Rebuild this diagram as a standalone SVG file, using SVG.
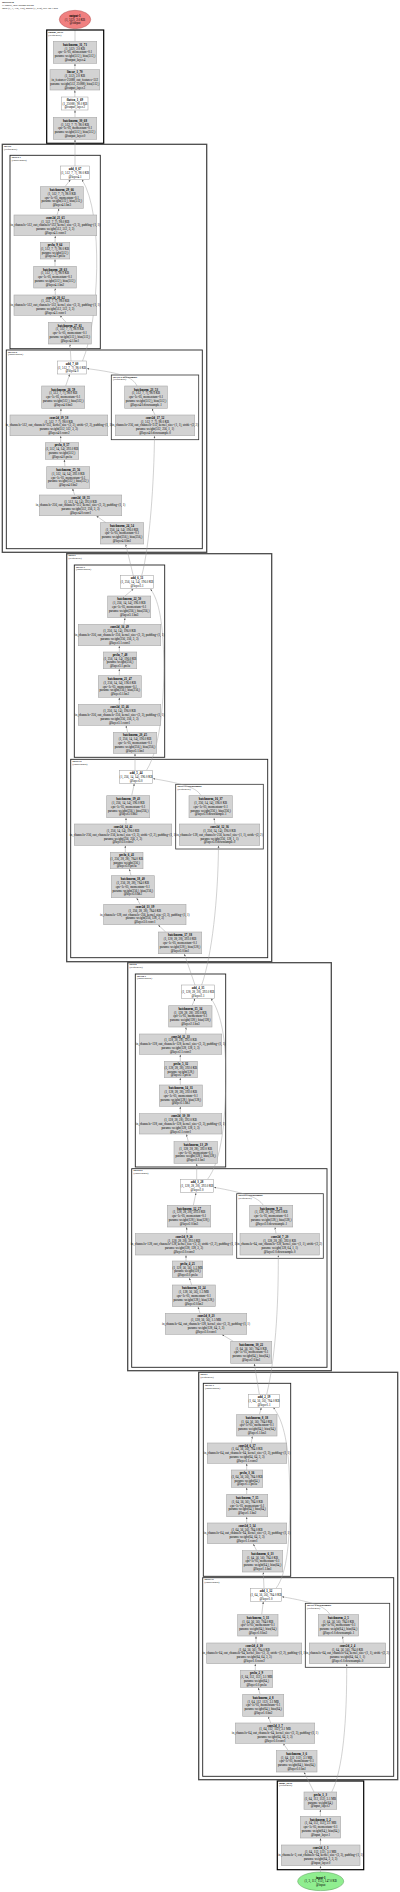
<svg xmlns="http://www.w3.org/2000/svg" width="400" height="1892" viewBox="0 0 400 1892">
<style>
text{font-family:"Liberation Serif","Times New Roman",serif;font-size:3.1px;text-anchor:middle;fill:#000}
.t{font-weight:bold}
.m rect{fill:#d3d3d3;stroke:#a8a8a8;stroke-width:0.6}
.w rect{fill:#fff;stroke:#9a9a9a;stroke-width:0.5}
.c>rect{fill:none}
.c>text{text-anchor:start;font-size:2.7px}
.s>rect{stroke:#4a4a4a;stroke-width:1.3}
.b>rect{stroke:#222;stroke-width:0.9}
.d>rect{stroke:#333;stroke-width:0.8}
.io>rect{stroke:#000;stroke-width:1.2}
.hd{text-anchor:start;font-size:2.7px}
#edges path{fill:none;stroke:#9a9a9a;stroke-width:0.45;marker-end:url(#ah)}
</style>
<defs>
<marker id="ah" viewBox="0 0 10 10" refX="10" refY="5" markerWidth="2.2" markerHeight="2.2" orient="auto" markerUnits="userSpaceOnUse"><path d="M0,1 L10,5 L0,9 z" fill="#555"/></marker>
</defs>
<rect width="400" height="1892" fill="#fff"/>
<g id="header">
<text class="hd t" x="2" y="3.2">IResNet18</text>
<text class="hd" x="2" y="6">71 nodes, total params 24.0M</text>
<text class="hd" x="2" y="8.8">input (1, 3, 112, 112), output (1, 512), size 52.3 MB</text>
</g>
<g id="clusters">
<g id="cluster_output_layer" class="c io"><rect x="46.7" y="30" width="57" height="113.3"/><text class="t" x="48.3" y="32.8">output_layer</text><text x="48.3" y="35.5">(Sequential)</text></g>
<g id="cluster_layer4" class="c s"><rect x="2.3" y="144.3" width="204.4" height="408"/><text class="t" x="4" y="147">layer4</text><text x="4" y="149.7">(Sequential)</text></g>
<g id="cluster_layer4_1" class="c b"><rect x="10" y="155.3" width="90.3" height="193.4"/><text class="t" x="11.7" y="158">layer4.1</text><text x="11.7" y="160.7">(IBasicBlock)</text></g>
<g id="cluster_layer4_0" class="c b"><rect x="6.3" y="350" width="196" height="198.7"/><text class="t" x="8" y="352.7">layer4.0</text><text x="8" y="355.4">(IBasicBlock)</text></g>
<g id="cluster_layer4_0_ds" class="c d"><rect x="111.3" y="375" width="87.4" height="64.7"/><text class="t" x="113" y="377.7">layer4.0.downsample</text><text x="113" y="380.4">(Sequential)</text></g>
<g id="cluster_layer3" class="c s"><rect x="66.7" y="553.7" width="205" height="408"/><text class="t" x="68.4" y="556.4">layer3</text><text x="68.4" y="559.1">(Sequential)</text></g>
<g id="cluster_layer3_1" class="c b"><rect x="74.3" y="565" width="90.4" height="192.3"/><text class="t" x="76" y="567.7">layer3.1</text><text x="76" y="570.4">(IBasicBlock)</text></g>
<g id="cluster_layer3_0" class="c b"><rect x="70.7" y="759.3" width="197" height="198.4"/><text class="t" x="72.4" y="762">layer3.0</text><text x="72.4" y="764.7">(IBasicBlock)</text></g>
<g id="cluster_layer3_0_ds" class="c d"><rect x="175.7" y="784.3" width="87.6" height="64.7"/><text class="t" x="177.4" y="787">layer3.0.downsample</text><text x="177.4" y="789.7">(Sequential)</text></g>
<g id="cluster_layer2" class="c s"><rect x="127.7" y="962.7" width="203.6" height="408"/><text class="t" x="129.4" y="965.4">layer2</text><text x="129.4" y="968.1">(Sequential)</text></g>
<g id="cluster_layer2_1" class="c b"><rect x="135.3" y="974" width="90.4" height="193"/><text class="t" x="137" y="976.7">layer2.1</text><text x="137" y="979.4">(IBasicBlock)</text></g>
<g id="cluster_layer2_0" class="c b"><rect x="131.7" y="1168.7" width="195.3" height="198.6"/><text class="t" x="133.4" y="1171.4">layer2.0</text><text x="133.4" y="1174.1">(IBasicBlock)</text></g>
<g id="cluster_layer2_0_ds" class="c d"><rect x="236.7" y="1193.7" width="86.6" height="64.6"/><text class="t" x="238.4" y="1196.4">layer2.0.downsample</text><text x="238.4" y="1199.1">(Sequential)</text></g>
<g id="cluster_layer1" class="c s"><rect x="198.7" y="1372.3" width="199" height="407.4"/><text class="t" x="200.4" y="1375">layer1</text><text x="200.4" y="1377.7">(Sequential)</text></g>
<g id="cluster_layer1_1" class="c b"><rect x="203.3" y="1383.3" width="87.4" height="193"/><text class="t" x="205" y="1386">layer1.1</text><text x="205" y="1388.7">(IBasicBlock)</text></g>
<g id="cluster_layer1_0" class="c b"><rect x="202.7" y="1577.7" width="191" height="198.6"/><text class="t" x="204.4" y="1580.4">layer1.0</text><text x="204.4" y="1583.1">(IBasicBlock)</text></g>
<g id="cluster_layer1_0_ds" class="c d"><rect x="305.3" y="1603.3" width="84.4" height="64"/><text class="t" x="307" y="1606">layer1.0.downsample</text><text x="307" y="1608.7">(Sequential)</text></g>
<g id="cluster_input_layer" class="c io"><rect x="277.3" y="1781" width="86.4" height="88.7"/><text class="t" x="279" y="1783.7">input_layer</text><text x="279" y="1786.4">(Sequential)</text></g>
</g>
<g id="edges">
<path d="M75,117.3 L75,110.3"/>
<path d="M74.85,97 L74.85,90.3"/>
<path d="M74.85,69.7 L75,63.6"/>
<path d="M75,41.3 L75,28.9"/>
<path d="M75,166 L75,139.6"/>
<path d="M71,361 L70,344.3"/>
<path d="M82.5,361 C99,322 104,214 82,179.6"/>
<path d="M66,322.3 L60,315.6"/>
<path d="M55.3,295 L55.2,288.3"/>
<path d="M55,266.3 L55,259.3"/>
<path d="M55,242.3 L55.3,236"/>
<path d="M57,215 L59,208.6"/>
<path d="M65,186.7 L70.5,179.6"/>
<path d="M155,415 L152,408.6"/>
<path d="M137,386 C133,377 121,373 87,368.6"/>
<path d="M65.7,386 L69.7,374.3"/>
<path d="M60.7,415 L61,408.6"/>
<path d="M60.7,442.7 L60.7,436"/>
<path d="M65,466.7 L64.3,459.6"/>
<path d="M74.7,495 L72.5,488.6"/>
<path d="M106,522.7 L96.5,516"/>
<path d="M133.3,575.7 L125.7,544.3"/>
<path d="M141.7,575.7 C150,545 154,480 154.5,436"/>
<path d="M135,770.3 L135,753.6"/>
<path d="M146.5,770.3 C161,748 166,690 163,640 C161,612 157,598 150.5,589"/>
<path d="M127.7,732.3 L126,725.6"/>
<path d="M119.3,704.3 L119.3,697.6"/>
<path d="M119.3,675.7 L119.3,669"/>
<path d="M119.3,652 L119.3,646"/>
<path d="M124,624.3 L125,618"/>
<path d="M125,596 L133.3,589"/>
<path d="M215,824 L214,818"/>
<path d="M201,795.7 C197,788 185,784 153,778.6"/>
<path d="M131.7,795.7 L134.3,783.6"/>
<path d="M126,824 L126,818"/>
<path d="M125.3,852.3 L125.3,845.6"/>
<path d="M131,875.7 L129.3,869"/>
<path d="M140,904.3 L136.7,898"/>
<path d="M165.7,932 L158.3,925"/>
<path d="M195,985 L184.3,954"/>
<path d="M201.7,985 C212,955 218,900 218.5,845.6"/>
<path d="M196.7,1179.3 L196.7,1163.6"/>
<path d="M207.5,1179.3 C221,1162 227,1120 225.5,1060 C224.5,1028 218,1008 211,998.6"/>
<path d="M188.3,1141.7 L186.5,1134.3"/>
<path d="M180.3,1113.7 L180.3,1106.6"/>
<path d="M180.3,1085 L180.3,1078"/>
<path d="M180.3,1061.3 L180.3,1054.6"/>
<path d="M185.7,1034 L186,1027.3"/>
<path d="M192,1005.7 L195,998.6"/>
<path d="M276,1233.7 L275,1227.3"/>
<path d="M263.3,1205.3 C258,1197 245,1193 214,1187.3"/>
<path d="M193.3,1205.3 L196,1193"/>
<path d="M186.7,1233.7 L186.7,1227.3"/>
<path d="M186,1261 L186,1255.3"/>
<path d="M191.7,1285 L189.3,1278"/>
<path d="M200,1313.3 L198,1307"/>
<path d="M233.3,1341.3 L222,1334.6"/>
<path d="M259.3,1394.3 L254.3,1363.6"/>
<path d="M266.7,1394.3 C275,1360 278.5,1310 278.3,1255.3"/>
<path d="M264,1588.3 L263.3,1572.3"/>
<path d="M276,1588.3 C287,1574 291,1540 289.5,1480 C288.5,1440 282,1418 273.3,1407.6"/>
<path d="M256.7,1550.7 L253.3,1544"/>
<path d="M246.7,1523 L246.7,1517"/>
<path d="M246.7,1494.3 L246.7,1487.6"/>
<path d="M246.7,1470 L246.7,1463.6"/>
<path d="M251.3,1443 L252.3,1436.3"/>
<path d="M259.3,1414.7 L261.3,1407.6"/>
<path d="M343.3,1643 L342.7,1636.3"/>
<path d="M330,1614.7 C325,1606 312,1602 282,1596.7"/>
<path d="M261.7,1614.7 L263.3,1601.6"/>
<path d="M256,1643 L256,1636.3"/>
<path d="M255.3,1670.3 L255.3,1664"/>
<path d="M260,1694.3 L258.3,1687.6"/>
<path d="M270.7,1723 L268.3,1716.6"/>
<path d="M288.3,1750.7 L283.3,1743.6"/>
<path d="M314,1792 L304,1772.3"/>
<path d="M331.7,1792 C343,1770 347,1720 346.7,1664"/>
<path d="M320.4,1816.3 L320.4,1809.6"/>
<path d="M320.5,1845 L320.5,1838.3"/>
<path d="M320.5,1872 L320.5,1866"/>
</g>
<g id="nodes">
<g id="output-1"><ellipse cx="75" cy="19.5" rx="15.7" ry="9.2" fill="#f08080" stroke="#b05050" stroke-width="0.5"/><text x="75" y="16.77"><tspan class="t">output-1</tspan><tspan x="75" dy="3.83">(1, 512), 2.0 KB</tspan><tspan x="75" dy="3.83">@output</tspan></text></g>
<g id="batchnorm_31_71" class="m"><rect x="53.3" y="41.3" width="43.4" height="22"/><text x="75" y="45.74"><tspan class="t">batchnorm_31_71</tspan><tspan x="75" dy="3.83">(1, 512), 2.0 KB</tspan><tspan x="75" dy="3.83">eps=1e-05, momentum=0.1</tspan><tspan x="75" dy="3.83">params: weight(512,), bias(512,)</tspan><tspan x="75" dy="3.83">@output_layer.4</tspan></text></g>
<g id="linear_1_70" class="m"><rect x="50" y="69.7" width="49.7" height="20.3"/><text x="74.85" y="73.29"><tspan class="t">linear_1_70</tspan><tspan x="74.85" dy="3.83">(1, 512), 2.0 KB</tspan><tspan x="74.85" dy="3.83">in_features=25088, out_features=512</tspan><tspan x="74.85" dy="3.83">params: weight(512, 25088), bias(512,)</tspan><tspan x="74.85" dy="3.83">@output_layer.3</tspan></text></g>
<g id="flatten_1_69" class="w"><rect x="61.7" y="97" width="26.3" height="13"/><text x="74.85" y="100.77"><tspan class="t">flatten_1_69</tspan><tspan x="74.85" dy="3.83">(1, 25088), 98.0 KB</tspan><tspan x="74.85" dy="3.83">@output_layer.2</tspan></text></g>
<g id="batchnorm_30_68" class="m"><rect x="53.3" y="117.3" width="43.4" height="22"/><text x="75" y="121.74"><tspan class="t">batchnorm_30_68</tspan><tspan x="75" dy="3.83">(1, 512, 7, 7), 98.0 KB</tspan><tspan x="75" dy="3.83">eps=1e-05, momentum=0.1</tspan><tspan x="75" dy="3.83">params: weight(512,), bias(512,)</tspan><tspan x="75" dy="3.83">@output_layer.0</tspan></text></g>

<g id="add_8_67" class="w"><rect x="60.3" y="166" width="29.4" height="13.3"/><text x="75" y="169.92"><tspan class="t">add_8_67</tspan><tspan x="75" dy="3.83">(1, 512, 7, 7), 98.0 KB</tspan><tspan x="75" dy="3.83">@layer4.1</tspan></text></g>
<g id="batchnorm_29_66" class="m"><rect x="40.3" y="186.7" width="43" height="21.6"/><text x="61.8" y="190.94"><tspan class="t">batchnorm_29_66</tspan><tspan x="61.8" dy="3.83">(1, 512, 7, 7), 98.0 KB</tspan><tspan x="61.8" dy="3.83">eps=1e-05, momentum=0.1</tspan><tspan x="61.8" dy="3.83">params: weight(512,), bias(512,)</tspan><tspan x="61.8" dy="3.83">@layer4.1.bn3</tspan></text></g>
<g id="conv2d_21_65" class="m"><rect x="14" y="215" width="82.7" height="20.7"/><text x="55.35" y="218.79"><tspan class="t">conv2d_21_65</tspan><tspan x="55.35" dy="3.83">(1, 512, 7, 7), 98.0 KB</tspan><tspan x="55.35" dy="3.83">in_channels=512, out_channels=512, kernel_size=(3, 3), padding=(1, 1)</tspan><tspan x="55.35" dy="3.83">params: weight(512, 512, 3, 3)</tspan><tspan x="55.35" dy="3.83">@layer4.1.conv2</tspan></text></g>
<g id="prelu_9_64" class="m"><rect x="40.3" y="242.3" width="29.4" height="16.7"/><text x="55" y="246"><tspan class="t">prelu_9_64</tspan><tspan x="55" dy="3.83">(1, 512, 7, 7), 98.0 KB</tspan><tspan x="55" dy="3.83">params: weight(512,)</tspan><tspan x="55" dy="3.83">@layer4.1.prelu</tspan></text></g>
<g id="batchnorm_28_63" class="m"><rect x="33.7" y="266.3" width="42.6" height="21.7"/><text x="55" y="270.59"><tspan class="t">batchnorm_28_63</tspan><tspan x="55" dy="3.83">(1, 512, 7, 7), 98.0 KB</tspan><tspan x="55" dy="3.83">eps=1e-05, momentum=0.1</tspan><tspan x="55" dy="3.83">params: weight(512,), bias(512,)</tspan><tspan x="55" dy="3.83">@layer4.1.bn2</tspan></text></g>
<g id="conv2d_20_62" class="m"><rect x="14" y="295" width="82.7" height="20.3"/><text x="55.35" y="298.59"><tspan class="t">conv2d_20_62</tspan><tspan x="55.35" dy="3.83">(1, 512, 7, 7), 98.0 KB</tspan><tspan x="55.35" dy="3.83">in_channels=512, out_channels=512, kernel_size=(3, 3), padding=(1, 1)</tspan><tspan x="55.35" dy="3.83">params: weight(512, 512, 3, 3)</tspan><tspan x="55.35" dy="3.83">@layer4.1.conv1</tspan></text></g>
<g id="batchnorm_27_61" class="m"><rect x="48.3" y="322.3" width="43" height="21.7"/><text x="69.8" y="326.59"><tspan class="t">batchnorm_27_61</tspan><tspan x="69.8" dy="3.83">(1, 512, 7, 7), 98.0 KB</tspan><tspan x="69.8" dy="3.83">eps=1e-05, momentum=0.1</tspan><tspan x="69.8" dy="3.83">params: weight(512,), bias(512,)</tspan><tspan x="69.8" dy="3.83">@layer4.1.bn1</tspan></text></g>

<g id="add_7_60" class="w"><rect x="57.3" y="361" width="29.4" height="13"/><text x="72" y="364.77"><tspan class="t">add_7_60</tspan><tspan x="72" dy="3.83">(1, 512, 7, 7), 98.0 KB</tspan><tspan x="72" dy="3.83">@layer4.0</tspan></text></g>
<g id="batchnorm_23_53" class="m"><rect x="124.7" y="386" width="42.6" height="22.3"/><text x="146" y="390.59"><tspan class="t">batchnorm_23_53</tspan><tspan x="146" dy="3.83">(1, 512, 7, 7), 98.0 KB</tspan><tspan x="146" dy="3.83">eps=1e-05, momentum=0.1</tspan><tspan x="146" dy="3.83">params: weight(512,), bias(512,)</tspan><tspan x="146" dy="3.83">@layer4.0.downsample.1</tspan></text></g>
<g id="conv2d_17_52" class="m"><rect x="115.3" y="415" width="79.4" height="20.7"/><text x="155" y="418.79"><tspan class="t">conv2d_17_52</tspan><tspan x="155" dy="3.83">(1, 512, 7, 7), 98.0 KB</tspan><tspan x="155" dy="3.83">in_channels=256, out_channels=512, kernel_size=(1, 1), stride=(2, 2)</tspan><tspan x="155" dy="3.83">params: weight(512, 256, 1, 1)</tspan><tspan x="155" dy="3.83">@layer4.0.downsample.0</tspan></text></g>
<g id="batchnorm_26_59" class="m"><rect x="41.7" y="386" width="43" height="22.3"/><text x="63.2" y="390.59"><tspan class="t">batchnorm_26_59</tspan><tspan x="63.2" dy="3.83">(1, 512, 7, 7), 98.0 KB</tspan><tspan x="63.2" dy="3.83">eps=1e-05, momentum=0.1</tspan><tspan x="63.2" dy="3.83">params: weight(512,), bias(512,)</tspan><tspan x="63.2" dy="3.83">@layer4.0.bn3</tspan></text></g>
<g id="conv2d_19_58" class="m"><rect x="10" y="415" width="97.7" height="20.7"/><text x="58.85" y="418.79"><tspan class="t">conv2d_19_58</tspan><tspan x="58.85" dy="3.83">(1, 512, 7, 7), 98.0 KB</tspan><tspan x="58.85" dy="3.83">in_channels=512, out_channels=512, kernel_size=(3, 3), stride=(2, 2), padding=(1, 1)</tspan><tspan x="58.85" dy="3.83">params: weight(512, 512, 3, 3)</tspan><tspan x="58.85" dy="3.83">@layer4.0.conv2</tspan></text></g>
<g id="prelu_8_57" class="m"><rect x="45.3" y="442.7" width="33.4" height="16.6"/><text x="62" y="446.36"><tspan class="t">prelu_8_57</tspan><tspan x="62" dy="3.83">(1, 512, 14, 14), 392.0 KB</tspan><tspan x="62" dy="3.83">params: weight(512,)</tspan><tspan x="62" dy="3.83">@layer4.0.prelu</tspan></text></g>
<g id="batchnorm_25_56" class="m"><rect x="46.7" y="466.7" width="43" height="21.6"/><text x="68.2" y="470.94"><tspan class="t">batchnorm_25_56</tspan><tspan x="68.2" dy="3.83">(1, 512, 14, 14), 392.0 KB</tspan><tspan x="68.2" dy="3.83">eps=1e-05, momentum=0.1</tspan><tspan x="68.2" dy="3.83">params: weight(512,), bias(512,)</tspan><tspan x="68.2" dy="3.83">@layer4.0.bn2</tspan></text></g>
<g id="conv2d_18_55" class="m"><rect x="39.3" y="495" width="82.4" height="20.7"/><text x="80.5" y="498.79"><tspan class="t">conv2d_18_55</tspan><tspan x="80.5" dy="3.83">(1, 512, 14, 14), 392.0 KB</tspan><tspan x="80.5" dy="3.83">in_channels=256, out_channels=512, kernel_size=(3, 3), padding=(1, 1)</tspan><tspan x="80.5" dy="3.83">params: weight(512, 256, 3, 3)</tspan><tspan x="80.5" dy="3.83">@layer4.0.conv1</tspan></text></g>
<g id="batchnorm_24_54" class="m"><rect x="100.3" y="522.7" width="43.4" height="21.3"/><text x="122" y="526.79"><tspan class="t">batchnorm_24_54</tspan><tspan x="122" dy="3.83">(1, 256, 14, 14), 196.0 KB</tspan><tspan x="122" dy="3.83">eps=1e-05, momentum=0.1</tspan><tspan x="122" dy="3.83">params: weight(256,), bias(256,)</tspan><tspan x="122" dy="3.83">@layer4.0.bn1</tspan></text></g>

<g id="add_6_51" class="w"><rect x="120.3" y="575.7" width="33.4" height="13"/><text x="137" y="579.47"><tspan class="t">add_6_51</tspan><tspan x="137" dy="3.83">(1, 256, 14, 14), 196.0 KB</tspan><tspan x="137" dy="3.83">@layer3.1</tspan></text></g>
<g id="batchnorm_22_50" class="m"><rect x="107.7" y="596" width="43" height="21.7"/><text x="129.2" y="600.29"><tspan class="t">batchnorm_22_50</tspan><tspan x="129.2" dy="3.83">(1, 256, 14, 14), 196.0 KB</tspan><tspan x="129.2" dy="3.83">eps=1e-05, momentum=0.1</tspan><tspan x="129.2" dy="3.83">params: weight(256,), bias(256,)</tspan><tspan x="129.2" dy="3.83">@layer3.1.bn3</tspan></text></g>
<g id="conv2d_16_49" class="m"><rect x="78.3" y="624.3" width="82.4" height="21.4"/><text x="119.5" y="628.44"><tspan class="t">conv2d_16_49</tspan><tspan x="119.5" dy="3.83">(1, 256, 14, 14), 196.0 KB</tspan><tspan x="119.5" dy="3.83">in_channels=256, out_channels=256, kernel_size=(3, 3), padding=(1, 1)</tspan><tspan x="119.5" dy="3.83">params: weight(256, 256, 3, 3)</tspan><tspan x="119.5" dy="3.83">@layer3.1.conv2</tspan></text></g>
<g id="prelu_7_48" class="m"><rect x="103.3" y="652" width="33.4" height="16.7"/><text x="120" y="655.7"><tspan class="t">prelu_7_48</tspan><tspan x="120" dy="3.83">(1, 256, 14, 14), 196.0 KB</tspan><tspan x="120" dy="3.83">params: weight(256,)</tspan><tspan x="120" dy="3.83">@layer3.1.prelu</tspan></text></g>
<g id="batchnorm_21_47" class="m"><rect x="98.3" y="675.7" width="43" height="21.6"/><text x="119.8" y="679.94"><tspan class="t">batchnorm_21_47</tspan><tspan x="119.8" dy="3.83">(1, 256, 14, 14), 196.0 KB</tspan><tspan x="119.8" dy="3.83">eps=1e-05, momentum=0.1</tspan><tspan x="119.8" dy="3.83">params: weight(256,), bias(256,)</tspan><tspan x="119.8" dy="3.83">@layer3.1.bn2</tspan></text></g>
<g id="conv2d_15_46" class="m"><rect x="78.3" y="704.3" width="82.4" height="21"/><text x="119.5" y="708.24"><tspan class="t">conv2d_15_46</tspan><tspan x="119.5" dy="3.83">(1, 256, 14, 14), 196.0 KB</tspan><tspan x="119.5" dy="3.83">in_channels=256, out_channels=256, kernel_size=(3, 3), padding=(1, 1)</tspan><tspan x="119.5" dy="3.83">params: weight(256, 256, 3, 3)</tspan><tspan x="119.5" dy="3.83">@layer3.1.conv1</tspan></text></g>
<g id="batchnorm_20_45" class="m"><rect x="113.3" y="732.3" width="43.4" height="21"/><text x="135" y="736.24"><tspan class="t">batchnorm_20_45</tspan><tspan x="135" dy="3.83">(1, 256, 14, 14), 196.0 KB</tspan><tspan x="135" dy="3.83">eps=1e-05, momentum=0.1</tspan><tspan x="135" dy="3.83">params: weight(256,), bias(256,)</tspan><tspan x="135" dy="3.83">@layer3.1.bn1</tspan></text></g>

<g id="add_5_44" class="w"><rect x="119.7" y="770.3" width="33" height="13"/><text x="136.2" y="774.07"><tspan class="t">add_5_44</tspan><tspan x="136.2" dy="3.83">(1, 256, 14, 14), 196.0 KB</tspan><tspan x="136.2" dy="3.83">@layer3.0</tspan></text></g>
<g id="batchnorm_16_37" class="m"><rect x="189" y="795.7" width="43.3" height="22"/><text x="210.65" y="800.14"><tspan class="t">batchnorm_16_37</tspan><tspan x="210.65" dy="3.83">(1, 256, 14, 14), 196.0 KB</tspan><tspan x="210.65" dy="3.83">eps=1e-05, momentum=0.1</tspan><tspan x="210.65" dy="3.83">params: weight(256,), bias(256,)</tspan><tspan x="210.65" dy="3.83">@layer3.0.downsample.1</tspan></text></g>
<g id="conv2d_12_36" class="m"><rect x="179.3" y="824" width="80.4" height="21.3"/><text x="219.5" y="828.09"><tspan class="t">conv2d_12_36</tspan><tspan x="219.5" dy="3.83">(1, 256, 14, 14), 196.0 KB</tspan><tspan x="219.5" dy="3.83">in_channels=128, out_channels=256, kernel_size=(1, 1), stride=(2, 2)</tspan><tspan x="219.5" dy="3.83">params: weight(256, 128, 1, 1)</tspan><tspan x="219.5" dy="3.83">@layer3.0.downsample.0</tspan></text></g>
<g id="batchnorm_19_43" class="m"><rect x="106.7" y="795.7" width="43" height="22"/><text x="128.2" y="800.14"><tspan class="t">batchnorm_19_43</tspan><tspan x="128.2" dy="3.83">(1, 256, 14, 14), 196.0 KB</tspan><tspan x="128.2" dy="3.83">eps=1e-05, momentum=0.1</tspan><tspan x="128.2" dy="3.83">params: weight(256,), bias(256,)</tspan><tspan x="128.2" dy="3.83">@layer3.0.bn3</tspan></text></g>
<g id="conv2d_14_42" class="m"><rect x="74.3" y="824" width="97.4" height="21.3"/><text x="123" y="828.09"><tspan class="t">conv2d_14_42</tspan><tspan x="123" dy="3.83">(1, 256, 14, 14), 196.0 KB</tspan><tspan x="123" dy="3.83">in_channels=256, out_channels=256, kernel_size=(3, 3), stride=(2, 2), padding=(1, 1)</tspan><tspan x="123" dy="3.83">params: weight(256, 256, 3, 3)</tspan><tspan x="123" dy="3.83">@layer3.0.conv2</tspan></text></g>
<g id="prelu_6_41" class="m"><rect x="110.3" y="852.3" width="32.7" height="16.4"/><text x="126.65" y="855.86"><tspan class="t">prelu_6_41</tspan><tspan x="126.65" dy="3.83">(1, 256, 28, 28), 784.0 KB</tspan><tspan x="126.65" dy="3.83">params: weight(256,)</tspan><tspan x="126.65" dy="3.83">@layer3.0.prelu</tspan></text></g>
<g id="batchnorm_18_40" class="m"><rect x="111.3" y="875.7" width="43" height="22"/><text x="132.8" y="880.14"><tspan class="t">batchnorm_18_40</tspan><tspan x="132.8" dy="3.83">(1, 256, 28, 28), 784.0 KB</tspan><tspan x="132.8" dy="3.83">eps=1e-05, momentum=0.1</tspan><tspan x="132.8" dy="3.83">params: weight(256,), bias(256,)</tspan><tspan x="132.8" dy="3.83">@layer3.0.bn2</tspan></text></g>
<g id="conv2d_13_39" class="m"><rect x="103.7" y="904.3" width="82.3" height="20.4"/><text x="144.85" y="907.94"><tspan class="t">conv2d_13_39</tspan><tspan x="144.85" dy="3.83">(1, 256, 28, 28), 784.0 KB</tspan><tspan x="144.85" dy="3.83">in_channels=128, out_channels=256, kernel_size=(3, 3), padding=(1, 1)</tspan><tspan x="144.85" dy="3.83">params: weight(256, 128, 3, 3)</tspan><tspan x="144.85" dy="3.83">@layer3.0.conv1</tspan></text></g>
<g id="batchnorm_17_38" class="m"><rect x="158.3" y="932" width="43.4" height="21.7"/><text x="180" y="936.29"><tspan class="t">batchnorm_17_38</tspan><tspan x="180" dy="3.83">(1, 128, 28, 28), 392.0 KB</tspan><tspan x="180" dy="3.83">eps=1e-05, momentum=0.1</tspan><tspan x="180" dy="3.83">params: weight(128,), bias(128,)</tspan><tspan x="180" dy="3.83">@layer3.0.bn1</tspan></text></g>

<g id="add_4_35" class="w"><rect x="181.3" y="985" width="33.4" height="13.3"/><text x="198" y="988.92"><tspan class="t">add_4_35</tspan><tspan x="198" dy="3.83">(1, 128, 28, 28), 392.0 KB</tspan><tspan x="198" dy="3.83">@layer2.1</tspan></text></g>
<g id="batchnorm_15_34" class="m"><rect x="168.7" y="1005.7" width="43.3" height="21.3"/><text x="190.35" y="1009.79"><tspan class="t">batchnorm_15_34</tspan><tspan x="190.35" dy="3.83">(1, 128, 28, 28), 392.0 KB</tspan><tspan x="190.35" dy="3.83">eps=1e-05, momentum=0.1</tspan><tspan x="190.35" dy="3.83">params: weight(128,), bias(128,)</tspan><tspan x="190.35" dy="3.83">@layer2.1.bn3</tspan></text></g>
<g id="conv2d_11_33" class="m"><rect x="139.3" y="1034" width="82.4" height="20.3"/><text x="180.5" y="1037.59"><tspan class="t">conv2d_11_33</tspan><tspan x="180.5" dy="3.83">(1, 128, 28, 28), 392.0 KB</tspan><tspan x="180.5" dy="3.83">in_channels=128, out_channels=128, kernel_size=(3, 3), padding=(1, 1)</tspan><tspan x="180.5" dy="3.83">params: weight(128, 128, 3, 3)</tspan><tspan x="180.5" dy="3.83">@layer2.1.conv2</tspan></text></g>
<g id="prelu_5_32" class="m"><rect x="164.3" y="1061.3" width="33" height="16.4"/><text x="180.8" y="1064.86"><tspan class="t">prelu_5_32</tspan><tspan x="180.8" dy="3.83">(1, 128, 28, 28), 392.0 KB</tspan><tspan x="180.8" dy="3.83">params: weight(128,)</tspan><tspan x="180.8" dy="3.83">@layer2.1.prelu</tspan></text></g>
<g id="batchnorm_14_31" class="m"><rect x="159.3" y="1085" width="43" height="21.3"/><text x="180.8" y="1089.09"><tspan class="t">batchnorm_14_31</tspan><tspan x="180.8" dy="3.83">(1, 128, 28, 28), 392.0 KB</tspan><tspan x="180.8" dy="3.83">eps=1e-05, momentum=0.1</tspan><tspan x="180.8" dy="3.83">params: weight(128,), bias(128,)</tspan><tspan x="180.8" dy="3.83">@layer2.1.bn2</tspan></text></g>
<g id="conv2d_10_30" class="m"><rect x="139.3" y="1113.7" width="82.4" height="20.3"/><text x="180.5" y="1117.29"><tspan class="t">conv2d_10_30</tspan><tspan x="180.5" dy="3.83">(1, 128, 28, 28), 392.0 KB</tspan><tspan x="180.5" dy="3.83">in_channels=128, out_channels=128, kernel_size=(3, 3), padding=(1, 1)</tspan><tspan x="180.5" dy="3.83">params: weight(128, 128, 3, 3)</tspan><tspan x="180.5" dy="3.83">@layer2.1.conv1</tspan></text></g>
<g id="batchnorm_13_29" class="m"><rect x="174" y="1141.7" width="43.3" height="21.6"/><text x="195.65" y="1145.94"><tspan class="t">batchnorm_13_29</tspan><tspan x="195.65" dy="3.83">(1, 128, 28, 28), 392.0 KB</tspan><tspan x="195.65" dy="3.83">eps=1e-05, momentum=0.1</tspan><tspan x="195.65" dy="3.83">params: weight(128,), bias(128,)</tspan><tspan x="195.65" dy="3.83">@layer2.1.bn1</tspan></text></g>

<g id="add_3_28" class="w"><rect x="180.3" y="1179.3" width="33.4" height="13.4"/><text x="197" y="1183.27"><tspan class="t">add_3_28</tspan><tspan x="197" dy="3.83">(1, 128, 28, 28), 392.0 KB</tspan><tspan x="197" dy="3.83">@layer2.0</tspan></text></g>
<g id="batchnorm_9_21" class="m"><rect x="249.7" y="1205.3" width="43" height="21.7"/><text x="271.2" y="1209.59"><tspan class="t">batchnorm_9_21</tspan><tspan x="271.2" dy="3.83">(1, 128, 28, 28), 392.0 KB</tspan><tspan x="271.2" dy="3.83">eps=1e-05, momentum=0.1</tspan><tspan x="271.2" dy="3.83">params: weight(128,), bias(128,)</tspan><tspan x="271.2" dy="3.83">@layer2.0.downsample.1</tspan></text></g>
<g id="conv2d_7_20" class="m"><rect x="240" y="1233.7" width="79.3" height="21.3"/><text x="279.65" y="1237.79"><tspan class="t">conv2d_7_20</tspan><tspan x="279.65" dy="3.83">(1, 128, 28, 28), 392.0 KB</tspan><tspan x="279.65" dy="3.83">in_channels=64, out_channels=128, kernel_size=(1, 1), stride=(2, 2)</tspan><tspan x="279.65" dy="3.83">params: weight(128, 64, 1, 1)</tspan><tspan x="279.65" dy="3.83">@layer2.0.downsample.0</tspan></text></g>
<g id="batchnorm_12_27" class="m"><rect x="167.3" y="1205.3" width="43.4" height="21.7"/><text x="189" y="1209.59"><tspan class="t">batchnorm_12_27</tspan><tspan x="189" dy="3.83">(1, 128, 28, 28), 392.0 KB</tspan><tspan x="189" dy="3.83">eps=1e-05, momentum=0.1</tspan><tspan x="189" dy="3.83">params: weight(128,), bias(128,)</tspan><tspan x="189" dy="3.83">@layer2.0.bn3</tspan></text></g>
<g id="conv2d_9_26" class="m"><rect x="135.3" y="1233.7" width="97.4" height="21.3"/><text x="184" y="1237.79"><tspan class="t">conv2d_9_26</tspan><tspan x="184" dy="3.83">(1, 128, 28, 28), 392.0 KB</tspan><tspan x="184" dy="3.83">in_channels=128, out_channels=128, kernel_size=(3, 3), stride=(2, 2), padding=(1, 1)</tspan><tspan x="184" dy="3.83">params: weight(128, 128, 3, 3)</tspan><tspan x="184" dy="3.83">@layer2.0.conv2</tspan></text></g>
<g id="prelu_4_25" class="m"><rect x="172.3" y="1261" width="30.4" height="16.7"/><text x="187.5" y="1264.7"><tspan class="t">prelu_4_25</tspan><tspan x="187.5" dy="3.83">(1, 128, 56, 56), 1.5 MB</tspan><tspan x="187.5" dy="3.83">params: weight(128,)</tspan><tspan x="187.5" dy="3.83">@layer2.0.prelu</tspan></text></g>
<g id="batchnorm_11_24" class="m"><rect x="172.3" y="1285" width="43" height="21.7"/><text x="193.8" y="1289.29"><tspan class="t">batchnorm_11_24</tspan><tspan x="193.8" dy="3.83">(1, 128, 56, 56), 1.5 MB</tspan><tspan x="193.8" dy="3.83">eps=1e-05, momentum=0.1</tspan><tspan x="193.8" dy="3.83">params: weight(128,), bias(128,)</tspan><tspan x="193.8" dy="3.83">@layer2.0.bn2</tspan></text></g>
<g id="conv2d_8_23" class="m"><rect x="165.3" y="1313.3" width="81.4" height="21"/><text x="206" y="1317.24"><tspan class="t">conv2d_8_23</tspan><tspan x="206" dy="3.83">(1, 128, 56, 56), 1.5 MB</tspan><tspan x="206" dy="3.83">in_channels=64, out_channels=128, kernel_size=(3, 3), padding=(1, 1)</tspan><tspan x="206" dy="3.83">params: weight(128, 64, 3, 3)</tspan><tspan x="206" dy="3.83">@layer2.0.conv1</tspan></text></g>
<g id="batchnorm_10_22" class="m"><rect x="230.7" y="1341.3" width="41" height="22"/><text x="251.2" y="1345.74"><tspan class="t">batchnorm_10_22</tspan><tspan x="251.2" dy="3.83">(1, 64, 56, 56), 784.0 KB</tspan><tspan x="251.2" dy="3.83">eps=1e-05, momentum=0.1</tspan><tspan x="251.2" dy="3.83">params: weight(64,), bias(64,)</tspan><tspan x="251.2" dy="3.83">@layer2.0.bn1</tspan></text></g>

<g id="add_2_19" class="w"><rect x="248.3" y="1394.3" width="31.4" height="13"/><text x="264" y="1398.07"><tspan class="t">add_2_19</tspan><tspan x="264" dy="3.83">(1, 64, 56, 56), 784.0 KB</tspan><tspan x="264" dy="3.83">@layer1.1</tspan></text></g>
<g id="batchnorm_8_18" class="m"><rect x="236.7" y="1414.7" width="40.3" height="21.3"/><text x="256.85" y="1418.79"><tspan class="t">batchnorm_8_18</tspan><tspan x="256.85" dy="3.83">(1, 64, 56, 56), 784.0 KB</tspan><tspan x="256.85" dy="3.83">eps=1e-05, momentum=0.1</tspan><tspan x="256.85" dy="3.83">params: weight(64,), bias(64,)</tspan><tspan x="256.85" dy="3.83">@layer1.1.bn3</tspan></text></g>
<g id="conv2d_6_17" class="m"><rect x="207.3" y="1443" width="79.4" height="20.3"/><text x="247" y="1446.59"><tspan class="t">conv2d_6_17</tspan><tspan x="247" dy="3.83">(1, 64, 56, 56), 784.0 KB</tspan><tspan x="247" dy="3.83">in_channels=64, out_channels=64, kernel_size=(3, 3), padding=(1, 1)</tspan><tspan x="247" dy="3.83">params: weight(64, 64, 3, 3)</tspan><tspan x="247" dy="3.83">@layer1.1.conv2</tspan></text></g>
<g id="prelu_3_16" class="m"><rect x="231.3" y="1470" width="31.4" height="17.3"/><text x="247" y="1474"><tspan class="t">prelu_3_16</tspan><tspan x="247" dy="3.83">(1, 64, 56, 56), 784.0 KB</tspan><tspan x="247" dy="3.83">params: weight(64,)</tspan><tspan x="247" dy="3.83">@layer1.1.prelu</tspan></text></g>
<g id="batchnorm_7_15" class="m"><rect x="226.7" y="1494.3" width="41" height="22.4"/><text x="247.2" y="1498.94"><tspan class="t">batchnorm_7_15</tspan><tspan x="247.2" dy="3.83">(1, 64, 56, 56), 784.0 KB</tspan><tspan x="247.2" dy="3.83">eps=1e-05, momentum=0.1</tspan><tspan x="247.2" dy="3.83">params: weight(64,), bias(64,)</tspan><tspan x="247.2" dy="3.83">@layer1.1.bn2</tspan></text></g>
<g id="conv2d_5_14" class="m"><rect x="207.3" y="1523" width="79.4" height="20.7"/><text x="247" y="1526.79"><tspan class="t">conv2d_5_14</tspan><tspan x="247" dy="3.83">(1, 64, 56, 56), 784.0 KB</tspan><tspan x="247" dy="3.83">in_channels=64, out_channels=64, kernel_size=(3, 3), padding=(1, 1)</tspan><tspan x="247" dy="3.83">params: weight(64, 64, 3, 3)</tspan><tspan x="247" dy="3.83">@layer1.1.conv1</tspan></text></g>
<g id="batchnorm_6_13" class="m"><rect x="242.3" y="1550.7" width="40.4" height="21.3"/><text x="262.5" y="1554.79"><tspan class="t">batchnorm_6_13</tspan><tspan x="262.5" dy="3.83">(1, 64, 56, 56), 784.0 KB</tspan><tspan x="262.5" dy="3.83">eps=1e-05, momentum=0.1</tspan><tspan x="262.5" dy="3.83">params: weight(64,), bias(64,)</tspan><tspan x="262.5" dy="3.83">@layer1.1.bn1</tspan></text></g>

<g id="add_1_12" class="w"><rect x="250.3" y="1588.3" width="31.4" height="13"/><text x="266" y="1592.07"><tspan class="t">add_1_12</tspan><tspan x="266" dy="3.83">(1, 64, 56, 56), 784.0 KB</tspan><tspan x="266" dy="3.83">@layer1.0</tspan></text></g>
<g id="batchnorm_2_5" class="m"><rect x="318.3" y="1614.7" width="40.4" height="21.3"/><text x="338.5" y="1618.79"><tspan class="t">batchnorm_2_5</tspan><tspan x="338.5" dy="3.83">(1, 64, 56, 56), 784.0 KB</tspan><tspan x="338.5" dy="3.83">eps=1e-05, momentum=0.1</tspan><tspan x="338.5" dy="3.83">params: weight(64,), bias(64,)</tspan><tspan x="338.5" dy="3.83">@layer1.0.downsample.1</tspan></text></g>
<g id="conv2d_2_4" class="m"><rect x="309.3" y="1643" width="76.4" height="20.7"/><text x="347.5" y="1646.79"><tspan class="t">conv2d_2_4</tspan><tspan x="347.5" dy="3.83">(1, 64, 56, 56), 784.0 KB</tspan><tspan x="347.5" dy="3.83">in_channels=64, out_channels=64, kernel_size=(1, 1), stride=(2, 2)</tspan><tspan x="347.5" dy="3.83">params: weight(64, 64, 1, 1)</tspan><tspan x="347.5" dy="3.83">@layer1.0.downsample.0</tspan></text></g>
<g id="batchnorm_5_11" class="m"><rect x="237.7" y="1614.7" width="40.3" height="21.3"/><text x="257.85" y="1618.79"><tspan class="t">batchnorm_5_11</tspan><tspan x="257.85" dy="3.83">(1, 64, 56, 56), 784.0 KB</tspan><tspan x="257.85" dy="3.83">eps=1e-05, momentum=0.1</tspan><tspan x="257.85" dy="3.83">params: weight(64,), bias(64,)</tspan><tspan x="257.85" dy="3.83">@layer1.0.bn3</tspan></text></g>
<g id="conv2d_4_10" class="m"><rect x="206.7" y="1643" width="95" height="20.7"/><text x="254.2" y="1646.79"><tspan class="t">conv2d_4_10</tspan><tspan x="254.2" dy="3.83">(1, 64, 56, 56), 784.0 KB</tspan><tspan x="254.2" dy="3.83">in_channels=64, out_channels=64, kernel_size=(3, 3), stride=(2, 2), padding=(1, 1)</tspan><tspan x="254.2" dy="3.83">params: weight(64, 64, 3, 3)</tspan><tspan x="254.2" dy="3.83">@layer1.0.conv2</tspan></text></g>
<g id="prelu_2_9" class="m"><rect x="240.3" y="1670.3" width="32.4" height="17"/><text x="256.5" y="1674.16"><tspan class="t">prelu_2_9</tspan><tspan x="256.5" dy="3.83">(1, 64, 112, 112), 3.1 MB</tspan><tspan x="256.5" dy="3.83">params: weight(64,)</tspan><tspan x="256.5" dy="3.83">@layer1.0.prelu</tspan></text></g>
<g id="batchnorm_4_8" class="m"><rect x="242.7" y="1694.3" width="41" height="22"/><text x="263.2" y="1698.74"><tspan class="t">batchnorm_4_8</tspan><tspan x="263.2" dy="3.83">(1, 64, 112, 112), 3.1 MB</tspan><tspan x="263.2" dy="3.83">eps=1e-05, momentum=0.1</tspan><tspan x="263.2" dy="3.83">params: weight(64,), bias(64,)</tspan><tspan x="263.2" dy="3.83">@layer1.0.bn2</tspan></text></g>
<g id="conv2d_3_7" class="m"><rect x="235.3" y="1723" width="79.4" height="20.3"/><text x="275" y="1726.59"><tspan class="t">conv2d_3_7</tspan><tspan x="275" dy="3.83">(1, 64, 112, 112), 3.1 MB</tspan><tspan x="275" dy="3.83">in_channels=64, out_channels=64, kernel_size=(3, 3), padding=(1, 1)</tspan><tspan x="275" dy="3.83">params: weight(64, 64, 3, 3)</tspan><tspan x="275" dy="3.83">@layer1.0.conv1</tspan></text></g>
<g id="batchnorm_3_6" class="m"><rect x="276.3" y="1750.7" width="40.7" height="21.3"/><text x="296.65" y="1754.79"><tspan class="t">batchnorm_3_6</tspan><tspan x="296.65" dy="3.83">(1, 64, 112, 112), 3.1 MB</tspan><tspan x="296.65" dy="3.83">eps=1e-05, momentum=0.1</tspan><tspan x="296.65" dy="3.83">params: weight(64,), bias(64,)</tspan><tspan x="296.65" dy="3.83">@layer1.0.bn1</tspan></text></g>

<g id="prelu_1_3" class="m"><rect x="304" y="1792" width="32.7" height="17.3"/><text x="320.35" y="1796"><tspan class="t">prelu_1_3</tspan><tspan x="320.35" dy="3.83">(1, 64, 112, 112), 3.1 MB</tspan><tspan x="320.35" dy="3.83">params: weight(64,)</tspan><tspan x="320.35" dy="3.83">@input_layer.2</tspan></text></g>
<g id="batchnorm_1_2" class="m"><rect x="300.3" y="1816.3" width="40.4" height="21.7"/><text x="320.5" y="1820.59"><tspan class="t">batchnorm_1_2</tspan><tspan x="320.5" dy="3.83">(1, 64, 112, 112), 3.1 MB</tspan><tspan x="320.5" dy="3.83">eps=1e-05, momentum=0.1</tspan><tspan x="320.5" dy="3.83">params: weight(64,), bias(64,)</tspan><tspan x="320.5" dy="3.83">@input_layer.1</tspan></text></g>
<g id="conv2d_1_1" class="m"><rect x="281.3" y="1845" width="78.7" height="20.7"/><text x="320.65" y="1848.79"><tspan class="t">conv2d_1_1</tspan><tspan x="320.65" dy="3.83">(1, 64, 112, 112), 3.1 MB</tspan><tspan x="320.65" dy="3.83">in_channels=3, out_channels=64, kernel_size=(3, 3), padding=(1, 1)</tspan><tspan x="320.65" dy="3.83">params: weight(64, 3, 3, 3)</tspan><tspan x="320.65" dy="3.83">@input_layer.0</tspan></text></g>
<g id="input-1"><ellipse cx="320.7" cy="1881.3" rx="23" ry="9.3" fill="#90ee90" stroke="#5a9a5a" stroke-width="0.5"/><text x="320.7" y="1878.57"><tspan class="t">input-1</tspan><tspan x="320.7" dy="3.83">(1, 3, 112, 112), 147.0 KB</tspan><tspan x="320.7" dy="3.83">@input</tspan></text></g>
</g>
</svg>
